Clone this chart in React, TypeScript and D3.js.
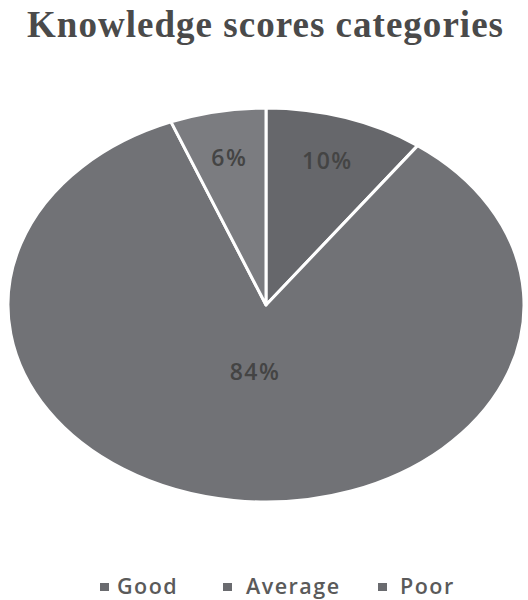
import React from "react";
import * as d3 from "d3";

const categories = ["Good", "Average", "Poor"];
const values = [10, 84, 6];
const labels = ["10%", "84%", "6%"];
const colors = ["#66676b", "#717276", "#7b7c80"];
const labelRadiusFactor = [0.77, 0.34, 0.76];

const W = 528;
const H = 600;

export default function App() {
  const cx = 266;
  const cy = 305;
  const rx = 258;
  const ry = 197;
  const sx = rx / ry;

  const pie = d3.pie<number>().sort(null).value((d) => d)(values);
  const arc = d3.arc<d3.PieArcDatum<number>>().innerRadius(0).outerRadius(ry);

  const legendItems = [
    { x: 100, tx: 117 },
    { x: 223, tx: 246 },
    { x: 378, tx: 400 },
  ];

  return (
    <svg width={W} height={H} style={{ position: "absolute", left: 0, top: 0, background: "#fff" }}>
      <text
        x={265}
        y={37}
        textAnchor="middle"
        fontFamily="'Liberation Serif', 'Times New Roman', serif"
        fontWeight="bold"
        fontSize={37}
        fill="#4a4a4a"
        textLength={476}
        lengthAdjust="spacing"
      >
        Knowledge scores categories
      </text>
      <g transform={`translate(${cx},${cy}) scale(${sx},1)`}>
        {pie.map((p, i) => (
          <path
            key={categories[i]}
            d={arc(p) || ""}
            fill={colors[i]}
            stroke="#fff"
            strokeWidth={3}
            vectorEffect="non-scaling-stroke"
            strokeLinejoin="round"
          />
        ))}
      </g>
      {pie.map((p, i) => {
        const r = ry * labelRadiusFactor[i];
        const a = (p.startAngle + p.endAngle) / 2;
        const lx = cx + Math.sin(a) * r * sx;
        const ly = cy - Math.cos(a) * r;
        return (
          <text
            key={"l" + i}
            x={lx}
            y={ly}
            dy="0.35em"
            textAnchor="middle"
            fontFamily="'Open Sans', Lato, sans-serif"
            fontWeight="600"
            fontSize={23}
            letterSpacing={1.5}
            fill="#444"
          >
            {labels[i]}
          </text>
        );
      })}
      {categories.map((c, i) => (
        <g key={"lg" + i}>
          <rect x={legendItems[i].x} y={583} width={9} height={8} fill="#6a6b6f" />
          <text
            x={legendItems[i].tx}
            y={586}
            dy="0.35em"
            fontFamily="'Open Sans', Lato, sans-serif"
            fontWeight="600"
            fontSize={21.5}
            letterSpacing={1.5}
            fill="#5a5a5a"
          >
            {c}
          </text>
        </g>
      ))}
    </svg>
  );
}
